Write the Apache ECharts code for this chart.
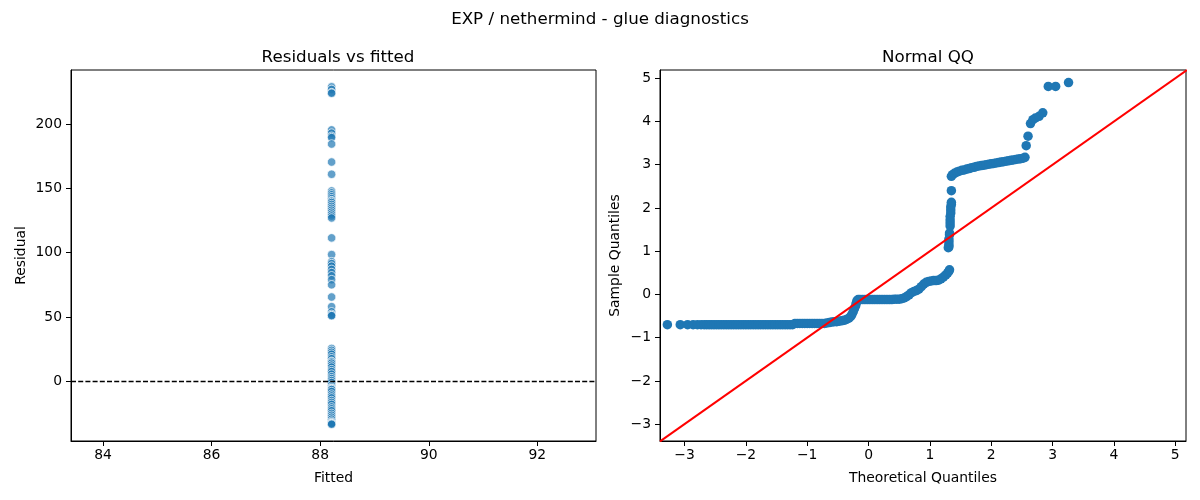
<!DOCTYPE html>
<html>
<head>
    <meta charset="utf-8">
    <title>EXP / nethermind - glue diagnostics</title>
    <script src="https://cdn.jsdelivr.net/npm/echarts@6.0.0/dist/echarts.min.js"></script>
</head>
<body style="margin:0;padding:0;background:#fff;">
<div id="main" style="margin:0;padding:0;width:1200px;height:500px;"></div>
<script type="text/javascript">
    // ---- data ----
    // left panel: residuals against the (constant) fitted value
    var fittedValue = 88.21;
    var residuals = [229, 227, 224.5, 224, 195.5, 193, 190.5, 189.5, 184.5, 170.5, 161,
        148, 146.5, 145, 143.5, 142, 140.5, 140, 139, 137.5, 136, 134.5, 133, 131.5, 130, 128.5, 127,
        111.5, 98.5, 93, 91.5, 89.5, 87, 84.5, 82, 79, 75, 65.5, 58, 54, 52, 51, 51,
        25.5, 24, 22.5, 21, 19, 17.5, 15.5, 15, 14, 12.5, 11, 9, 7.5, 5.5, 3.5, 2, 0.5,
        -1, -3, -4.5, -5.5, -6, -6, -6.5, -8, -10, -11.5, -13, -15, -16.5, -18, -20, -21.5,
        -23, -25, -26.5, -28, -29.5, -31, -32, -32.5, -33, -33, -33.5];

    // right panel: [theoretical quantile, sample quantile]
    var qqPoints = [
        [-3.28, -0.70], [-3.07, -0.70], [-2.95, -0.70], [-2.86, -0.70], [-2.79, -0.70], [-2.73, -0.70],
        [-2.68, -0.70], [-2.64, -0.70], [-2.60, -0.70], [-2.56, -0.70], [-2.52, -0.70], [-2.48, -0.70],
        [-2.44, -0.70], [-2.40, -0.70], [-2.36, -0.70], [-2.32, -0.70], [-2.28, -0.70], [-2.24, -0.70],
        [-2.20, -0.70], [-2.16, -0.70], [-2.12, -0.70], [-2.08, -0.70], [-2.04, -0.70], [-2.00, -0.70],
        [-1.96, -0.70], [-1.92, -0.70], [-1.88, -0.70], [-1.84, -0.70], [-1.80, -0.70], [-1.76, -0.70],
        [-1.72, -0.70], [-1.68, -0.70], [-1.64, -0.70], [-1.60, -0.70], [-1.56, -0.70], [-1.52, -0.70],
        [-1.48, -0.70], [-1.44, -0.70], [-1.40, -0.70], [-1.36, -0.70], [-1.32, -0.70], [-1.28, -0.70],
        [-1.24, -0.70],
        [-1.20, -0.67], [-1.16, -0.67], [-1.12, -0.67], [-1.08, -0.67], [-1.04, -0.67], [-1.00, -0.67],
        [-0.96, -0.67], [-0.92, -0.67], [-0.88, -0.67], [-0.84, -0.67], [-0.80, -0.67], [-0.76, -0.67],
        [-0.72, -0.67], [-0.68, -0.66],
        [-0.64, -0.65], [-0.60, -0.64], [-0.56, -0.63], [-0.52, -0.63], [-0.48, -0.62], [-0.44, -0.61],
        [-0.40, -0.60], [-0.36, -0.58], [-0.32, -0.55], [-0.29, -0.51], [-0.27, -0.46], [-0.25, -0.40],
        [-0.23, -0.33], [-0.21, -0.26], [-0.20, -0.20], [-0.19, -0.15], [-0.17, -0.12],
        [-0.14, -0.12], [-0.10, -0.12], [-0.06, -0.12], [-0.02, -0.12], [0.02, -0.12], [0.06, -0.12],
        [0.10, -0.12], [0.14, -0.12], [0.18, -0.12], [0.22, -0.12], [0.26, -0.12], [0.30, -0.12],
        [0.34, -0.12], [0.38, -0.12], [0.42, -0.11], [0.46, -0.11], [0.50, -0.11],
        [0.54, -0.10], [0.58, -0.08], [0.62, -0.05], [0.66, -0.01], [0.70, 0.04], [0.74, 0.07],
        [0.78, 0.09], [0.82, 0.12], [0.86, 0.18], [0.90, 0.24], [0.94, 0.28], [0.98, 0.30],
        [1.02, 0.31], [1.06, 0.32], [1.10, 0.32], [1.14, 0.33], [1.18, 0.36], [1.22, 0.40],
        [1.26, 0.45], [1.29, 0.50], [1.31, 0.54], [1.32, 0.57],
        [1.30, 1.08], [1.31, 1.10], [1.31, 1.15], [1.31, 1.22], [1.31, 1.28], [1.32, 1.38],
        [1.32, 1.42], [1.33, 1.58], [1.33, 1.65], [1.33, 1.72], [1.33, 1.80], [1.34, 1.88],
        [1.34, 1.95], [1.34, 2.02], [1.35, 2.08], [1.35, 2.13], [1.35, 2.40],
        [1.35, 2.73], [1.37, 2.77], [1.40, 2.80], [1.44, 2.83], [1.48, 2.85], [1.52, 2.87],
        [1.56, 2.88], [1.60, 2.90], [1.64, 2.91], [1.68, 2.93], [1.72, 2.94], [1.76, 2.96],
        [1.80, 2.97], [1.84, 2.98], [1.88, 2.99], [1.92, 3.00], [1.96, 3.01], [2.00, 3.02],
        [2.04, 3.03], [2.08, 3.04], [2.12, 3.05], [2.16, 3.06], [2.20, 3.07], [2.24, 3.08],
        [2.28, 3.09], [2.32, 3.10], [2.36, 3.11], [2.40, 3.12], [2.44, 3.13], [2.48, 3.14],
        [2.52, 3.15], [2.55, 3.17],
        [2.57, 3.44], [2.60, 3.66], [2.64, 3.95], [2.68, 4.04], [2.72, 4.08], [2.78, 4.12],
        [2.84, 4.20], [2.93, 4.81], [3.05, 4.81], [3.26, 4.90]
    ];

    // axis limits and ticks
    var fittedRange = [83.41, 93.08];
    var residualRange = [-46.5, 242.1];
    var fittedTicks = [84, 86, 88, 90, 92];
    var residualTicks = [0, 50, 100, 150, 200];
    var theoRange = [-3.40, 5.175];
    var sampleRange = [-3.39, 5.19];
    var qqTicks = [-3, -2, -1, 0, 1, 2, 3, 4, 5];
    // 45 degree reference line ends
    var refLine = [-3.40, 5.19];

    var FONT = 'DejaVu Sans';

    function minus(v) {
        return String(v).replace('-', '\u2212');
    }

    function valueAxis(gridIndex, range, ticks, name, nameGap, isY) {
        return {
            type: 'value',
            gridIndex: gridIndex,
            min: range[0],
            max: range[1],
            name: name,
            nameLocation: 'middle',
            nameGap: nameGap,
            nameTextStyle: {fontFamily: FONT, fontSize: 13.9, color: '#000'},
            axisLine: {show: true, onZero: false, lineStyle: {color: '#000', width: 1}},
            axisTick: {show: true, length: 5, customValues: ticks, lineStyle: {color: '#000', width: 1}},
            axisLabel: {
                customValues: ticks,
                margin: isY ? 9 : 7,
                fontFamily: FONT,
                fontSize: 13.9,
                color: '#000',
                formatter: minus
            },
            splitLine: {show: false}
        };
    }

    var residualData = residuals.map(function (r) { return [fittedValue, r]; });

    var myChart = echarts.init(document.getElementById('main'));

    var option = {
        animation: false,
        backgroundColor: '#fff',
        textStyle: {fontFamily: FONT},
        title: [
            {text: 'EXP / nethermind - glue diagnostics', left: 'center', top: 6,
                textStyle: {fontFamily: FONT, fontSize: 16.7, fontWeight: 'normal', color: '#000'}},
            {text: 'Residuals vs fitted', left: 333, textAlign: 'center', top: 44,
                textStyle: {fontFamily: FONT, fontSize: 16.7, fontWeight: 'normal', color: '#000'}},
            {text: 'Normal QQ', left: 923, textAlign: 'center', top: 44,
                textStyle: {fontFamily: FONT, fontSize: 16.7, fontWeight: 'normal', color: '#000'}}
        ],
        grid: [
            {left: 71, right: 604, top: 70, bottom: 59, show: true, borderColor: '#000', borderWidth: 1,
                backgroundColor: 'transparent', outerBoundsMode: 'none'},
            {left: 660, right: 14, top: 70, bottom: 59, show: true, borderColor: '#000', borderWidth: 1,
                backgroundColor: 'transparent', outerBoundsMode: 'none'}
        ],
        xAxis: [
            valueAxis(0, fittedRange, fittedTicks, 'Fitted', 30, false),
            valueAxis(1, theoRange, qqTicks, 'Theoretical Quantiles', 30, false)
        ],
        yAxis: [
            valueAxis(0, residualRange, residualTicks, 'Residual', 43, true),
            valueAxis(1, sampleRange, qqTicks, 'Sample Quantiles', 38, true)
        ],
        series: [
            {
                name: 'residuals',
                type: 'scatter',
                xAxisIndex: 0,
                yAxisIndex: 0,
                symbolSize: 8.5,
                itemStyle: {color: '#1f77b4', opacity: 0.7, borderColor: '#fff', borderWidth: 1},
                data: residualData,
                markLine: {
                    silent: true,
                    symbol: 'none',
                    label: {show: false},
                    lineStyle: {color: '#000', type: [5, 2.2], width: 1.3},
                    data: [{yAxis: 0}]
                }
            },
            {
                name: 'qq',
                type: 'scatter',
                xAxisIndex: 1,
                yAxisIndex: 1,
                symbolSize: 9.5,
                itemStyle: {color: '#1f77b4', opacity: 1},
                data: qqPoints
            },
            {
                name: '45',
                type: 'line',
                xAxisIndex: 1,
                yAxisIndex: 1,
                z: 5,
                symbol: 'none',
                clip: true,
                lineStyle: {color: '#ff0000', width: 2},
                data: [[refLine[0], refLine[0]], [refLine[1], refLine[1]]]
            }
        ]
    };

    myChart.setOption(option);
</script>
</body>
</html>
